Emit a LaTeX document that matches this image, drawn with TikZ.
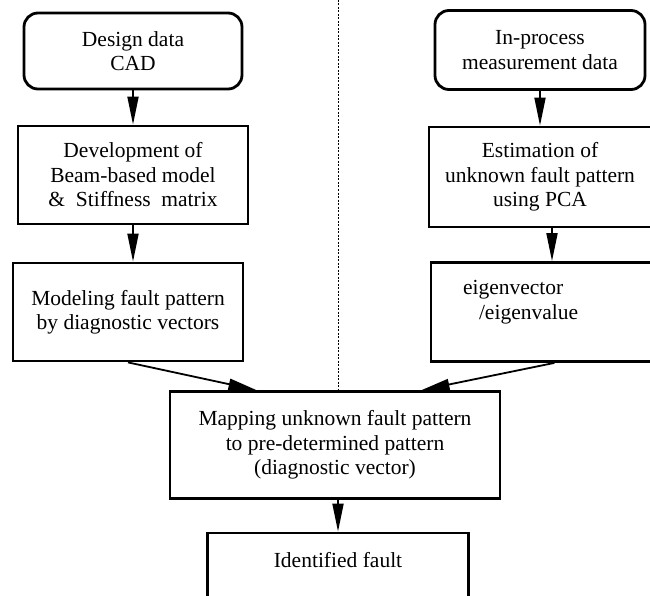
\documentclass[tikz,border=0pt]{standalone}
\usepackage{fontspec}
\setmainfont{Liberation Serif}
\usetikzlibrary{arrows.meta,calc}

\tikzset{
  box/.style={draw, line width=2.8pt, align=center, inner sep=0pt,
    font=\fontsize{21.5}{24.5}\selectfont},
  roundbox/.style={box, rounded corners=14pt},
  arr/.style={line width=1.8pt, -{Triangle[length=28pt,width=11pt]}},
  divider/.style={line width=0.8pt, dash pattern=on 2pt off 1.5pt}
}

\begin{document}
\begin{tikzpicture}[x=1pt,y=-1pt]
\useasboundingbox (0,0) rectangle (650,596);
\clip (0,0) rectangle (650,596);

%%Left column
\node[roundbox, minimum width=218pt, minimum height=76pt] (cad) at (133,51) {Design data\\CAD};
\node[box, minimum width=230pt, minimum height=98pt] (dev) at (133,175) {Development of\\Beam-based model\\\&\ \ Stiffness\ \ matrix};
\node[box, minimum width=230pt, minimum height=98pt] (model) at (128,312) {Modeling fault pattern\\by diagnostic vectors};

%%Right column
\node[roundbox, minimum width=210pt, minimum height=79pt] (meas) at (540,50) {In-process\\measurement data};
\node[box, minimum width=222pt, minimum height=100pt] (est) at (540,177) {Estimation of\\unknown fault pattern\\using PCA};
\node[box, minimum width=220pt, minimum height=99pt, text width=156pt, align=left] (eig) at (541,312) {eigenvector\\\hspace*{16pt}/eigenvalue\\\mbox{}};

%%Bottom
\node[box, minimum width=330pt, minimum height=107pt] (map) at (335,445) {Mapping unknown fault pattern\\to pre-determined pattern\\(diagnostic vector)};
\node[box, minimum width=261pt, minimum height=78pt] (fault) at (338,572) {Identified fault\\\mbox{}};

%%Divider
\coordinate (top) at (338,0);
\draw[divider] (top) -- (top |- map.north);

%%Arrows
\draw[arr] (cad.south) -- (cad.south |- dev.north);
\draw[arr] (dev.south) -- (dev.south |- model.north);
\draw[arr] (meas.south) -- (meas.south |- est.north);
\coordinate (e1) at ($(est.south)+(12,0)$);
\draw[arr] (e1) -- (e1 |- eig.north);
\draw[arr] (model.south) -- ($(map.north west)!0.264!(map.north east)$);
\draw[arr] ($(eig.south west)!0.56!(eig.south east)$) -- ($(map.north west)!0.76!(map.north east)$);
\draw[arr] (fault.north |- map.south) -- (fault.north);

\end{tikzpicture}
\end{document}
